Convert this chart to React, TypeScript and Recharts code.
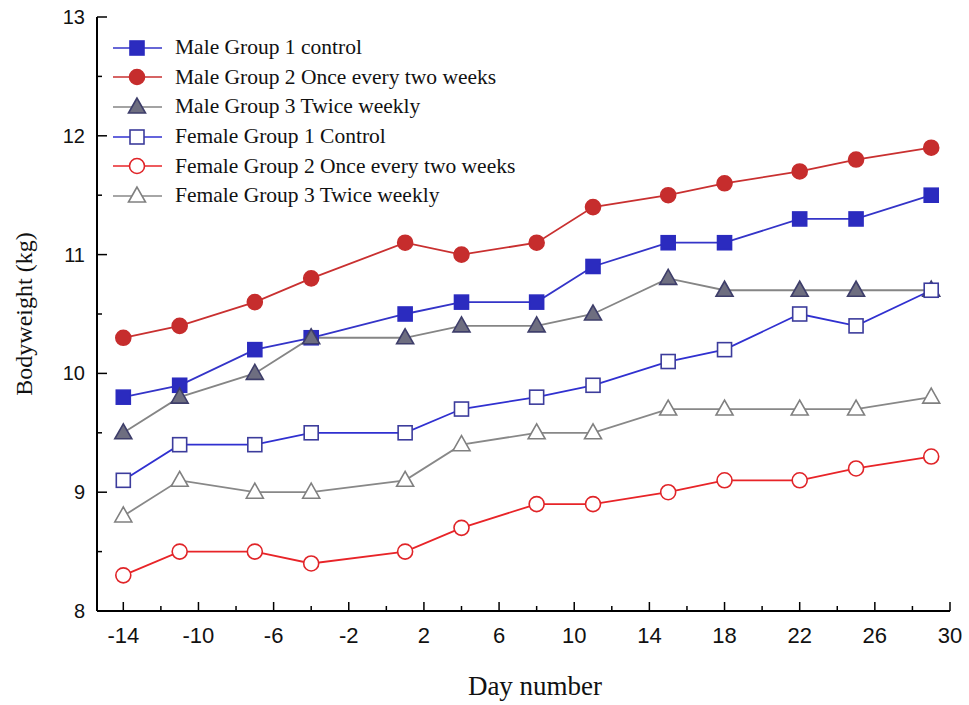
import React from "react";
import { LineChart, Line, XAxis, YAxis, Label } from "recharts";

// 測定日
const days = [-14, -11, -7, -4, 1, 4, 8, 11, 15, 18, 22, 25, 29];

// 体重（kg）
const maleG1 = [9.8, 9.9, 10.2, 10.3, 10.5, 10.6, 10.6, 10.9, 11.1, 11.1, 11.3, 11.3, 11.5];
const maleG2 = [10.3, 10.4, 10.6, 10.8, 11.1, 11.0, 11.1, 11.4, 11.5, 11.6, 11.7, 11.8, 11.9];
const maleG3 = [9.5, 9.8, 10.0, 10.3, 10.3, 10.4, 10.4, 10.5, 10.8, 10.7, 10.7, 10.7, 10.7];
const femaleG1 = [9.1, 9.4, 9.4, 9.5, 9.5, 9.7, 9.8, 9.9, 10.1, 10.2, 10.5, 10.4, 10.7];
const femaleG2 = [8.3, 8.5, 8.5, 8.4, 8.5, 8.7, 8.9, 8.9, 9.0, 9.1, 9.1, 9.2, 9.3];
const femaleG3 = [8.8, 9.1, 9.0, 9.0, 9.1, 9.4, 9.5, 9.5, 9.7, 9.7, 9.7, 9.7, 9.8];

// 目盛り
const xMajor = [-14, -10, -6, -2, 2, 6, 10, 14, 18, 22, 26, 30];
const xMinor = [-12, -8, -4, 0, 4, 8, 12, 16, 20, 24, 28];
const yMajor = [8, 9, 10, 11, 12, 13];
const yMinor = [8.5, 9.5, 10.5, 11.5, 12.5];

const SERIF = "'Liberation Serif', 'Times New Roman', serif";
const SANS = "'Liberation Sans', Arial, sans-serif";

const data = days.map((d, i) => ({
  day: d,
  m1: maleG1[i],
  m2: maleG2[i],
  m3: maleG3[i],
  f1: femaleG1[i],
  f2: femaleG2[i],
  f3: femaleG3[i],
}));

type Shape = "square" | "circle" | "triangle";

const seriesDefs: {
  key: string;
  name: string;
  line: string;
  shape: Shape;
  fill: string;
  stroke: string;
}[] = [
  { key: "m1", name: "Male Group 1 control", line: "#3434c8", shape: "square", fill: "#2b2bbf", stroke: "#2b2bbf" },
  { key: "m2", name: "Male Group 2 Once every two weeks", line: "#c93030", shape: "circle", fill: "#c62d2d", stroke: "#c62d2d" },
  { key: "m3", name: "Male Group 3 Twice weekly", line: "#858585", shape: "triangle", fill: "#6e6e80", stroke: "#3e3e6a" },
  { key: "f1", name: "Female Group 1 Control", line: "#3030d0", shape: "square", fill: "#ffffff", stroke: "#3c3c9c" },
  { key: "f2", name: "Female Group 2 Once every two weeks", line: "#e82428", shape: "circle", fill: "#ffffff", stroke: "#e02428" },
  { key: "f3", name: "Female Group 3 Twice weekly", line: "#888888", shape: "triangle", fill: "#ffffff", stroke: "#808080" },
];

const Marker = ({ shape, cx, cy, fill, stroke }: { shape: Shape; cx: number; cy: number; fill: string; stroke: string }) => {
  if (shape === "square") {
    return <rect x={cx - 7} y={cy - 7} width={14} height={14} fill={fill} stroke={stroke} strokeWidth={1.6} />;
  }
  if (shape === "circle") {
    return <circle cx={cx} cy={cy} r={7.5} fill={fill} stroke={stroke} strokeWidth={1.6} />;
  }
  return (
    <polygon
      points={`${cx},${cy - 9} ${cx - 8.5},${cy + 6} ${cx + 8.5},${cy + 6}`}
      fill={fill}
      stroke={stroke}
      strokeWidth={1.6}
    />
  );
};

const XTick = (props: any) => {
  const { x, y, payload } = props;
  const major = xMajor.includes(payload.value);
  return (
    <g>
      <line x1={x} y1={y} x2={x} y2={y - (major ? 9 : 5)} stroke="#000" strokeWidth={1.5} />
      {major && (
        <text x={x} y={y + 32} textAnchor="middle" fontSize={22} fontFamily={SANS} fill="#111">
          {payload.value}
        </text>
      )}
    </g>
  );
};

const YTick = (props: any) => {
  const { x, y, payload } = props;
  const major = yMajor.includes(payload.value);
  return (
    <g>
      <line x1={x} y1={y} x2={x + (major ? 10 : 5)} y2={y} stroke="#000" strokeWidth={1.5} />
      {major && (
        <text x={x - 12} y={y + 7} textAnchor="end" fontSize={20} fontFamily={SANS} fill="#111">
          {payload.value}
        </text>
      )}
    </g>
  );
};

// 凡例（グラフ左上に重ねる）
const LegendBox = () => (
  <div style={{ position: "absolute", left: 112, top: 33, fontFamily: SERIF, fontSize: 21.5, color: "#111" }}>
    {seriesDefs.map((s) => (
      <div key={s.key} style={{ display: "flex", alignItems: "center", height: 29.6, whiteSpace: "nowrap" }}>
        <svg width={52} height={24} style={{ marginRight: 11 }}>
          <line x1={1} y1={12} x2={50} y2={12} stroke={s.line} strokeWidth={1.6} />
          <Marker shape={s.shape} cx={25} cy={12} fill={s.fill} stroke={s.stroke} />
        </svg>
        <span>{s.name}</span>
      </div>
    ))}
  </div>
);

export default function App() {
  return (
    <div style={{ position: "absolute", left: 0, top: 0, width: 969, height: 705, background: "#fff" }}>
      <LineChart width={969} height={705} data={data} margin={{ top: 17, right: 19, bottom: 34, left: 37 }}>
        <XAxis
          dataKey="day"
          type="number"
          domain={[-15.4, 30]}
          ticks={[...xMajor, ...xMinor].sort((a, b) => a - b)}
          interval={0}
          height={60}
          tickSize={0}
          tickMargin={0}
          tickLine={false}
          tick={<XTick />}
          axisLine={{ stroke: "#000", strokeWidth: 2 }}
          allowDataOverflow
        >
          <Label
            content={() => (
              <text x={535} y={695} textAnchor="middle" fontSize={27} fontFamily={SERIF} fill="#111">
                Day number
              </text>
            )}
          />
        </XAxis>
        <YAxis
          type="number"
          domain={[8, 13]}
          ticks={[...yMajor, ...yMinor].sort((a, b) => a - b)}
          interval={0}
          width={60}
          tickSize={0}
          tickMargin={0}
          tickLine={false}
          tick={<YTick />}
          axisLine={{ stroke: "#000", strokeWidth: 2 }}
          allowDataOverflow
        >
          <Label
            content={() => (
              <text
                x={32}
                y={314}
                transform="rotate(-90, 32, 314)"
                textAnchor="middle"
                fontSize={24}
                fontFamily={SERIF}
                fill="#111"
              >
                Bodyweight (kg)
              </text>
            )}
          />
        </YAxis>
        {seriesDefs.map((s) => (
          <Line
            key={s.key}
            dataKey={s.key}
            name={s.name}
            stroke={s.line}
            strokeWidth={1.8}
            isAnimationActive={false}
            legendType="none"
            dot={(p: any) => (
              <Marker key={`${s.key}-${p.index}`} shape={s.shape} cx={p.cx} cy={p.cy} fill={s.fill} stroke={s.stroke} />
            )}
            activeDot={false}
          />
        ))}
      </LineChart>
      <LegendBox />
    </div>
  );
}
